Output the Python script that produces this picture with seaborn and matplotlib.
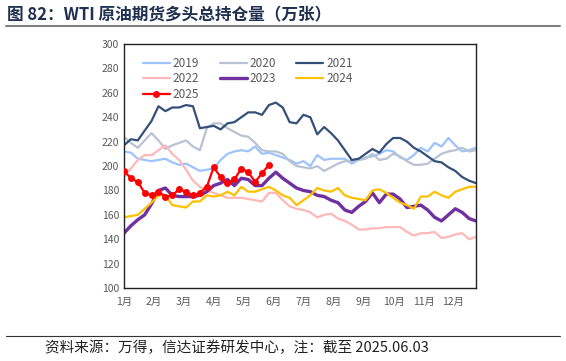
import numpy as np
import pandas as pd
import matplotlib.pyplot as plt
import seaborn as sns

# weekly values (万张), week index 0..51
y2019 = [212, 211, 206, 205, 204, 205, 206, 203, 201, 202, 199, 196, 197, 198, 205, 210, 212, 213, 212, 216,
         210, 211, 209, 207, 205, 202, 204, 200, 209, 205, 206, 206, 206, 202, 205, 207, 208, 210, 213, 212,
         207, 205, 209, 215, 212, 219, 216, 223, 217, 212, 213, 215]
y2020 = [224, 219, 215, 221, 227, 221, 214, 217, 219, 221, 216, 213, 231, 235, 235, 231, 228, 225, 224, 219,
         213, 212, 212, 210, 204, 200, 199, 198, 200, 196, 199, 202, 204, 204, 205, 206, 210, 205, 206, 210,
         208, 204, 201, 201, 202, 206, 210, 212, 213, 215, 212, 213]
y2021 = [217, 222, 221, 229, 237, 249, 245, 248, 248, 250, 249, 231, 232, 233, 230, 235, 236, 240, 244, 244,
         242, 250, 252, 248, 236, 235, 242, 240, 226, 232, 227, 221, 213, 205, 206, 210, 214, 211, 218, 223,
         223, 220, 215, 212, 208, 204, 203, 199, 196, 191, 188, 186]
y2022 = [191, 198, 205, 209, 209, 213, 217, 210, 205, 197, 188, 183, 180, 178, 176, 174, 174, 174, 173, 172,
         171, 178, 178, 172, 167, 165, 164, 162, 158, 160, 161, 157, 155, 152, 148, 148, 149, 149, 150, 150,
         150, 146, 143, 145, 145, 146, 141, 142, 144, 145, 140, 142]
y2023 = [145, 151, 156, 160, 169, 180, 182, 176, 175, 175, 175, 176, 179, 184, 186, 189, 184, 190, 189, 184,
         184, 190, 195, 190, 186, 182, 180, 179, 176, 175, 172, 170, 164, 162, 167, 171, 178, 170, 177, 177,
         173, 166, 167, 168, 164, 158, 155, 160, 165, 162, 157, 155]
y2024 = [158, 159, 160, 165, 170, 176, 176, 168, 167, 166, 171, 171, 176, 175, 176, 179, 176, 183, 179, 179,
         181, 183, 180, 176, 174, 168, 172, 176, 182, 180, 179, 182, 176, 174, 173, 172, 180, 181, 178, 174,
         170, 168, 165, 175, 175, 179, 176, 174, 179, 181, 183, 183]
y2025 = [196, 190, 187, 178, 176, 179, 175, 176, 181, 179, 176, 178, 183, 199, 191, 186, 189, 198, 195, 187,
         194, 201]

years = ['2019', '2020', '2021', '2022', '2023', '2024', '2025']
series = [y2019, y2020, y2021, y2022, y2023, y2024, y2025]
months = ['1月', '2月', '3月', '4月', '5月', '6月', '7月', '8月', '9月', '10月', '11月', '12月']

colors = {'2019': '#9DC3FF', '2020': '#B8C2D2', '2021': '#34507A', '2022': '#FFB8B8',
          '2023': '#7030A0', '2024': '#FFC000', '2025': '#FF0000'}

rows = []
for yr, vals in zip(years, series):
    for w, v in enumerate(vals):
        rows.append((yr, w, v))
df = pd.DataFrame(rows, columns=['year', 'week', 'value'])

sns.set_style('white')
plt.rcParams['font.family'] = ['Noto Sans CJK SC', 'DejaVu Sans']

fig = plt.figure(figsize=(5.66, 3.61), dpi=100)
ax = fig.add_axes([0.219, 0.202, 0.622, 0.676])

for yr in years:
    d = df[df['year'] == yr]
    if yr == '2025':
        sns.lineplot(data=d, x='week', y='value', ax=ax, color=colors[yr], lw=1.6,
                     marker='o', markersize=5, markeredgewidth=0, label=yr, zorder=5)
    else:
        sns.lineplot(data=d, x='week', y='value', ax=ax, color=colors[yr],
                     lw=2.4 if yr == '2023' else 1.6, label=yr)

ax.set_xlim(0, 51)
ax.set_ylim(100, 300)
ax.set_yticks(range(100, 301, 20))
ax.set_xticks([i * 51 / 11.75 for i in range(12)])
ax.set_xticklabels(months)
ax.set_xlabel('')
ax.set_ylabel('')
ax.tick_params(axis='both', labelsize=7.5, colors='#595959', length=3, direction='out')
ax.tick_params(axis='x', length=3, color='black')
ax.tick_params(axis='y', length=0)
for sp in ax.spines.values():
    sp.set_color('#222222')
    sp.set_linewidth(1.0)

# legend filled row by row like the original
h, l = ax.get_legend_handles_labels()
order = [0, 3, 6, 1, 4, 2, 5]
ax.legend([h[i] for i in order], [l[i] for i in order], ncol=3, loc='upper left',
          bbox_to_anchor=(0.0, 1.025), frameon=False, fontsize=8.5, handlelength=2.3,
          handletextpad=0.25, columnspacing=1.7, labelspacing=0.22,
          labelcolor='#595959', borderaxespad=1.2)

fig.text(0.012, 0.958, '图 82：WTI 原油期货多头总持仓量（万张）', fontsize=12,
         fontweight='bold', color='#1F3050', va='center')
fig.add_artist(plt.Line2D([0.01, 0.99], [0.928, 0.928], color='#808080', lw=1.5))
fig.add_artist(plt.Line2D([0.01, 0.99], [0.069, 0.069], color='#333333', lw=0.8))
fig.text(0.08, 0.036, '资料来源：万得，信达证券研发中心，注：截至 2025.06.03', fontsize=10.5,
         color='#222222', va='center', style='italic')

fig.savefig('out.png', dpi=100)
